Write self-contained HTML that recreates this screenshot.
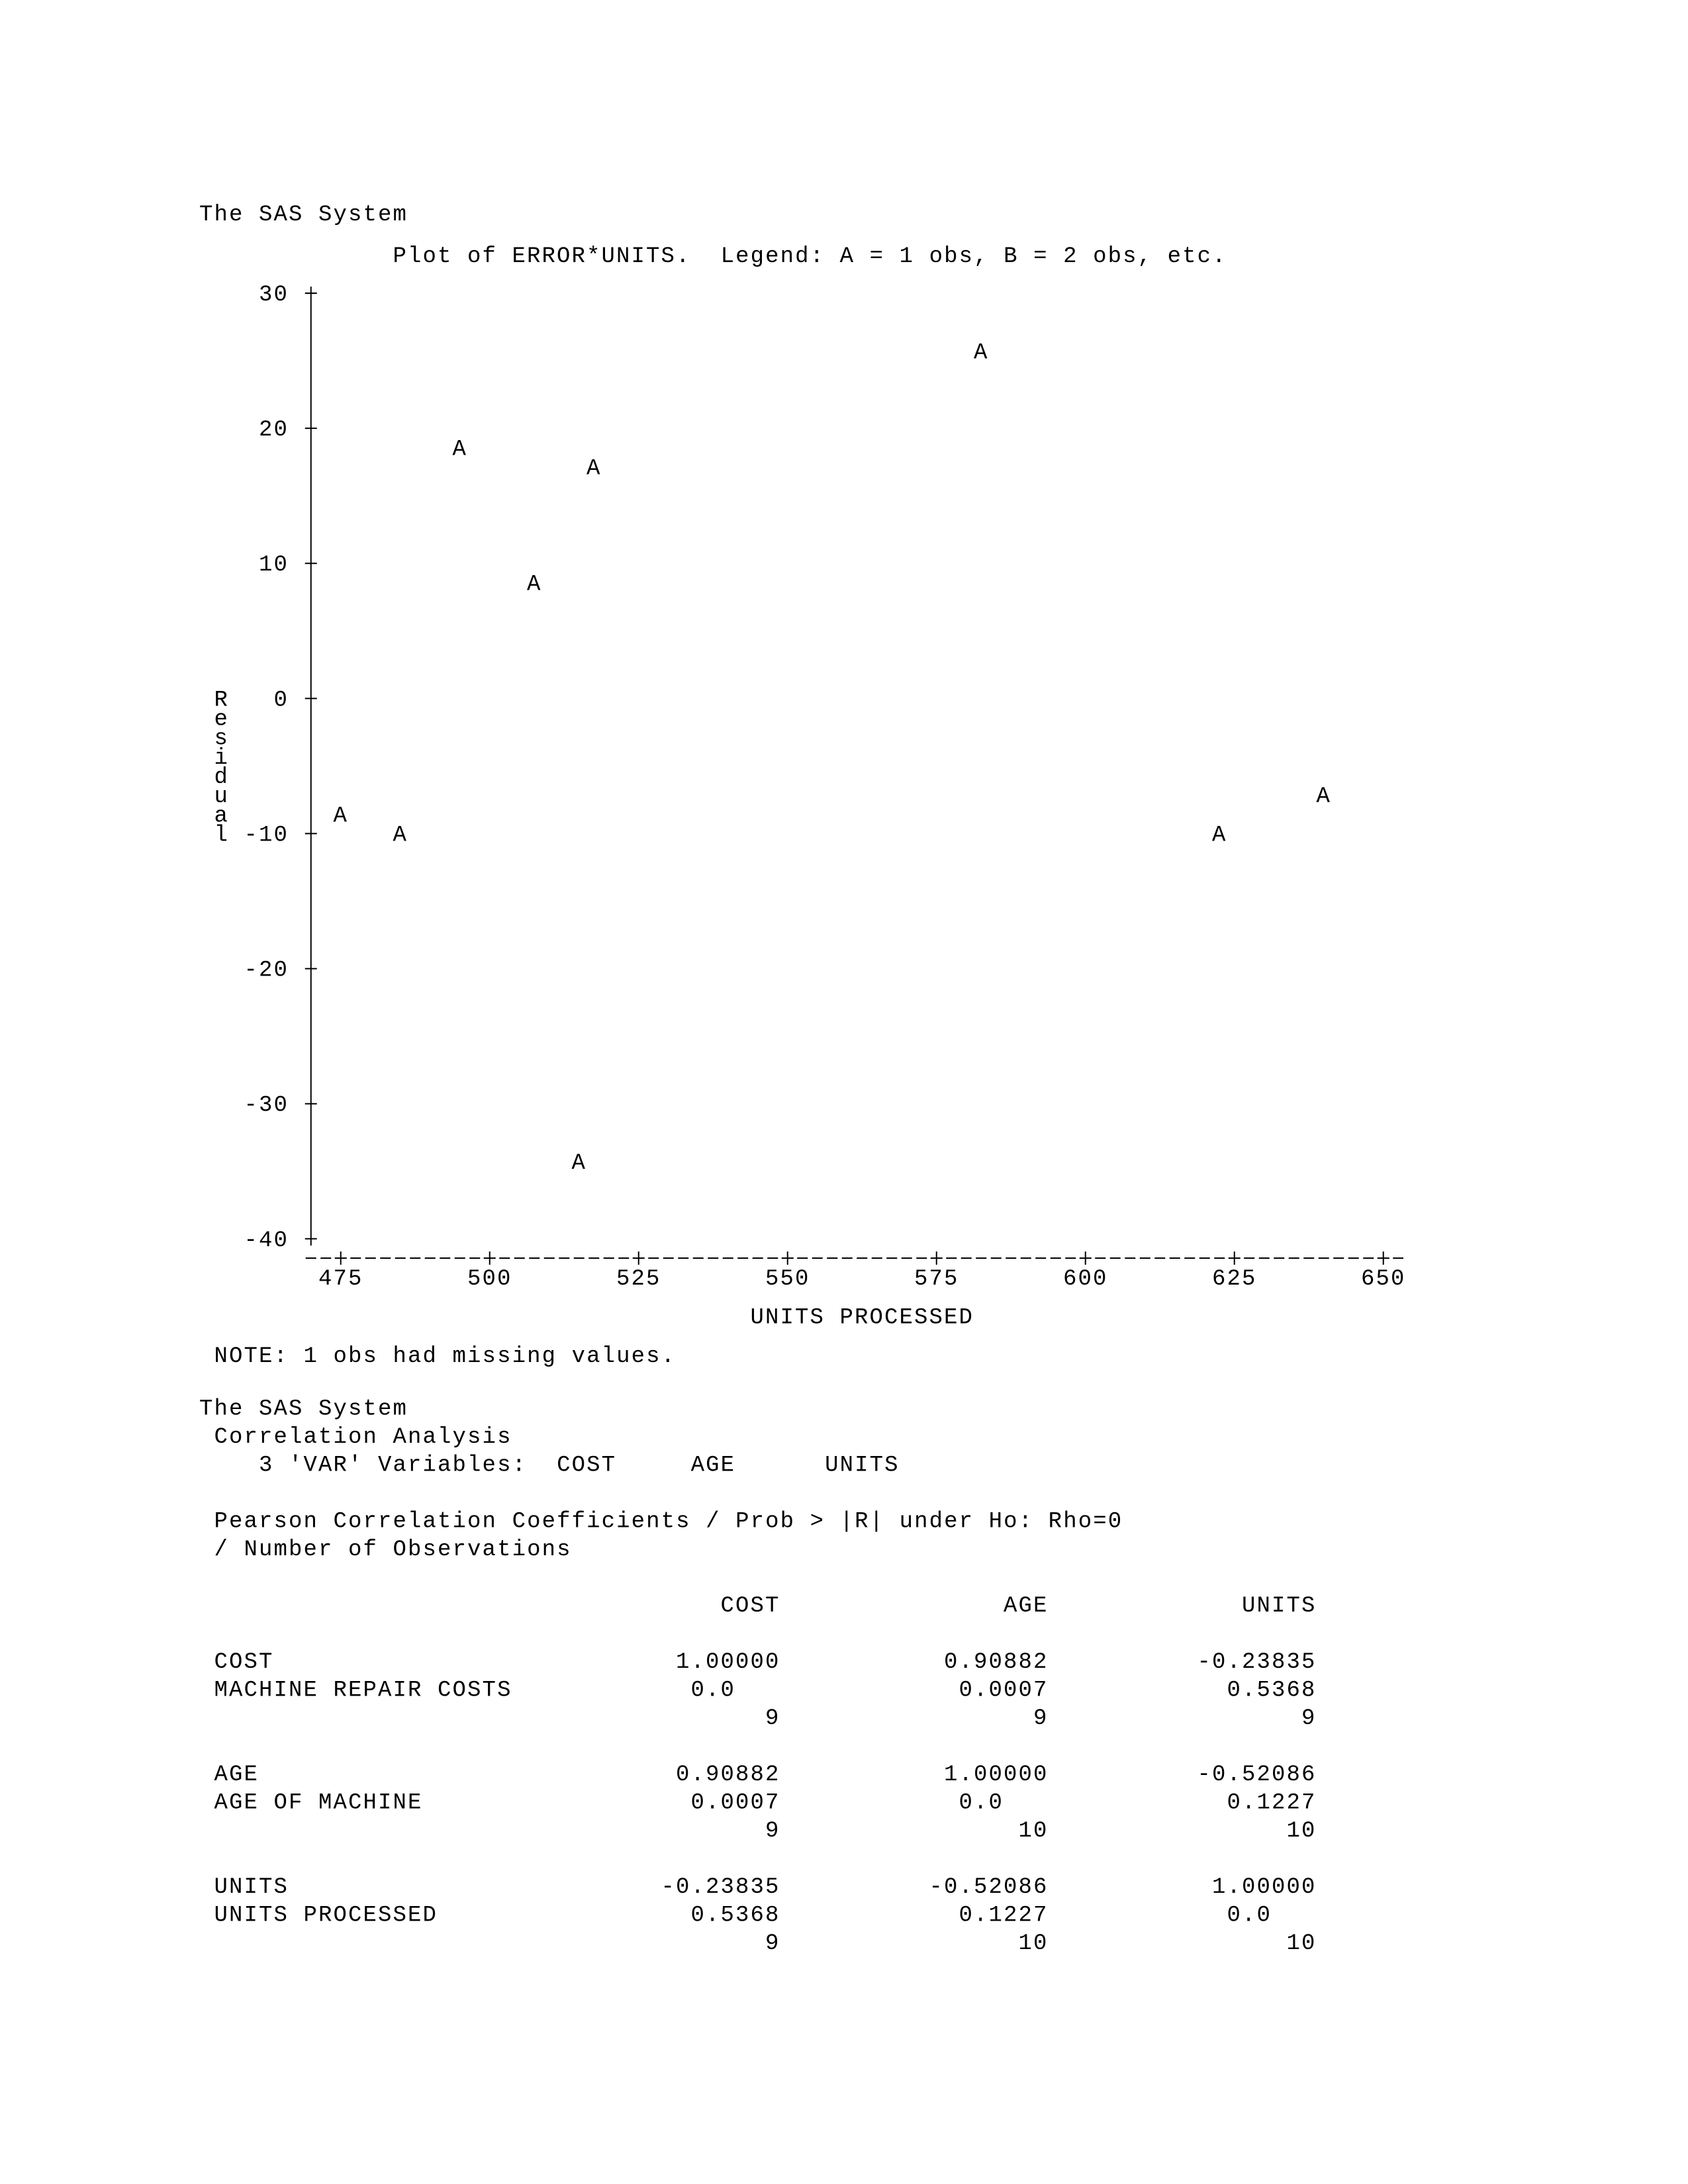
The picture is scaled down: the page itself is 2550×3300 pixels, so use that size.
<!DOCTYPE html>
<html>
<head>
<meta charset="utf-8">
<style>
  html, body { margin: 0; padding: 0; background: #ffffff; }
  svg { display: block; }
  svg text {
    font-family: "Liberation Mono", "DejaVu Sans Mono", monospace;
    font-size: 34px;
    letter-spacing: 2.1px;
    fill: #000000;
    white-space: pre;
  }
</style>
</head>
<body>
<svg xmlns="http://www.w3.org/2000/svg" width="2550" height="3300" viewBox="0 0 2550 3300">
  <rect x="0" y="0" width="2550" height="3300" fill="#ffffff"/>

  <!-- Header -->
  <text x="301" y="333">The SAS System</text>
  <text x="593.5" y="396">Plot of ERROR*UNITS.  Legend: A = 1 obs, B = 2 obs, etc.</text>

  <!-- Y tick labels -->
  <text x="391" y="454">30</text>
  <text x="391" y="658.1">20</text>
  <text x="391" y="862.2">10</text>
  <text x="413.5" y="1066.4">0</text>
  <text x="368.5" y="1270.5">-10</text>
  <text x="368.5" y="1474.6">-20</text>
  <text x="368.5" y="1678.7">-30</text>
  <text x="368.5" y="1882.8">-40</text>

  <!-- Vertical axis label -->
  <text x="323.5" y="1066.4">R</text>
  <text x="323.5" y="1095.5">e</text>
  <text x="323.5" y="1124.7">s</text>
  <text x="323.5" y="1153.8">i</text>
  <text x="323.5" y="1183">d</text>
  <text x="323.5" y="1212.2">u</text>
  <text x="323.5" y="1241.3">a</text>
  <text x="323.5" y="1270.5">l</text>

  <!-- Y axis -->
  <g stroke="#000" stroke-width="2" fill="none">
    <line x1="469.75" y1="433" x2="469.75" y2="1882"/>
    <line x1="460.75" y1="443" x2="478.75" y2="443"/>
    <line x1="460.75" y1="647.1" x2="478.75" y2="647.1"/>
    <line x1="460.75" y1="851.2" x2="478.75" y2="851.2"/>
    <line x1="460.75" y1="1055.4" x2="478.75" y2="1055.4"/>
    <line x1="460.75" y1="1259.5" x2="478.75" y2="1259.5"/>
    <line x1="460.75" y1="1463.6" x2="478.75" y2="1463.6"/>
    <line x1="460.75" y1="1667.7" x2="478.75" y2="1667.7"/>
    <line x1="460.75" y1="1871.8" x2="478.75" y2="1871.8"/>

    <!-- X axis dashed line -->
    <line x1="461.75" y1="1901" x2="2120" y2="1901" stroke-dasharray="16 6.5"/>
    <!-- X axis plus ticks -->
    <line x1="514.75" y1="1891" x2="514.75" y2="1911"/>
    <line x1="505.75" y1="1901" x2="523.75" y2="1901"/>
    <line x1="739.75" y1="1891" x2="739.75" y2="1911"/>
    <line x1="730.75" y1="1901" x2="748.75" y2="1901"/>
    <line x1="964.75" y1="1891" x2="964.75" y2="1911"/>
    <line x1="955.75" y1="1901" x2="973.75" y2="1901"/>
    <line x1="1189.75" y1="1891" x2="1189.75" y2="1911"/>
    <line x1="1180.75" y1="1901" x2="1198.75" y2="1901"/>
    <line x1="1414.75" y1="1891" x2="1414.75" y2="1911"/>
    <line x1="1405.75" y1="1901" x2="1423.75" y2="1901"/>
    <line x1="1639.75" y1="1891" x2="1639.75" y2="1911"/>
    <line x1="1630.75" y1="1901" x2="1648.75" y2="1901"/>
    <line x1="1864.75" y1="1891" x2="1864.75" y2="1911"/>
    <line x1="1855.75" y1="1901" x2="1873.75" y2="1901"/>
    <line x1="2089.75" y1="1891" x2="2089.75" y2="1911"/>
    <line x1="2080.75" y1="1901" x2="2098.75" y2="1901"/>
  </g>

  <!-- X tick labels -->
  <text x="481" y="1941.2">475</text>
  <text x="706" y="1941.2">500</text>
  <text x="931" y="1941.2">525</text>
  <text x="1156" y="1941.2">550</text>
  <text x="1381" y="1941.2">575</text>
  <text x="1606" y="1941.2">600</text>
  <text x="1831" y="1941.2">625</text>
  <text x="2056" y="1941.2">650</text>

  <text x="1133.5" y="1999.5">UNITS PROCESSED</text>
  <text x="323.5" y="2057.8">NOTE: 1 obs had missing values.</text>

  <!-- Data points -->
  <text x="1471" y="541.5">A</text>
  <text x="683.5" y="687.3">A</text>
  <text x="886" y="716.4">A</text>
  <text x="796" y="891.4">A</text>
  <text x="503.5" y="1241.3">A</text>
  <text x="593.5" y="1270.5">A</text>
  <text x="1988.5" y="1212.2">A</text>
  <text x="1831" y="1270.5">A</text>
  <text x="863.5" y="1766.2">A</text>

  <!-- Correlation section -->
  <text x="301" y="2137.5">The SAS System</text>
  <text x="323.5" y="2180">Correlation Analysis</text>
  <text x="323.5" y="2222.5">   3 'VAR' Variables:  COST     AGE      UNITS</text>
  <text x="323.5" y="2307.5">Pearson Correlation Coefficients / Prob &gt; |R| under Ho: Rho=0</text>
  <text x="323.5" y="2350">/ Number of Observations</text>

  <text x="1088.5" y="2435">COST</text>
  <text x="1516" y="2435">AGE</text>
  <text x="1876" y="2435">UNITS</text>

  <!-- COST block -->
  <text x="323.5" y="2520">COST</text>
  <text x="1021" y="2520">1.00000</text>
  <text x="1426" y="2520">0.90882</text>
  <text x="1808.5" y="2520">-0.23835</text>

  <text x="323.5" y="2562.5">MACHINE REPAIR COSTS</text>
  <text x="1043.5" y="2562.5">0.0</text>
  <text x="1448.5" y="2562.5">0.0007</text>
  <text x="1853.5" y="2562.5">0.5368</text>

  <text x="1156" y="2605">9</text>
  <text x="1561" y="2605">9</text>
  <text x="1966" y="2605">9</text>

  <!-- AGE block -->
  <text x="323.5" y="2690">AGE</text>
  <text x="1021" y="2690">0.90882</text>
  <text x="1426" y="2690">1.00000</text>
  <text x="1808.5" y="2690">-0.52086</text>

  <text x="323.5" y="2732.5">AGE OF MACHINE</text>
  <text x="1043.5" y="2732.5">0.0007</text>
  <text x="1448.5" y="2732.5">0.0</text>
  <text x="1853.5" y="2732.5">0.1227</text>

  <text x="1156" y="2775">9</text>
  <text x="1538.5" y="2775">10</text>
  <text x="1943.5" y="2775">10</text>

  <!-- UNITS block -->
  <text x="323.5" y="2860">UNITS</text>
  <text x="998.5" y="2860">-0.23835</text>
  <text x="1403.5" y="2860">-0.52086</text>
  <text x="1831" y="2860">1.00000</text>

  <text x="323.5" y="2902.5">UNITS PROCESSED</text>
  <text x="1043.5" y="2902.5">0.5368</text>
  <text x="1448.5" y="2902.5">0.1227</text>
  <text x="1853.5" y="2902.5">0.0</text>

  <text x="1156" y="2945">9</text>
  <text x="1538.5" y="2945">10</text>
  <text x="1943.5" y="2945">10</text>
</svg>
</body>
</html>
